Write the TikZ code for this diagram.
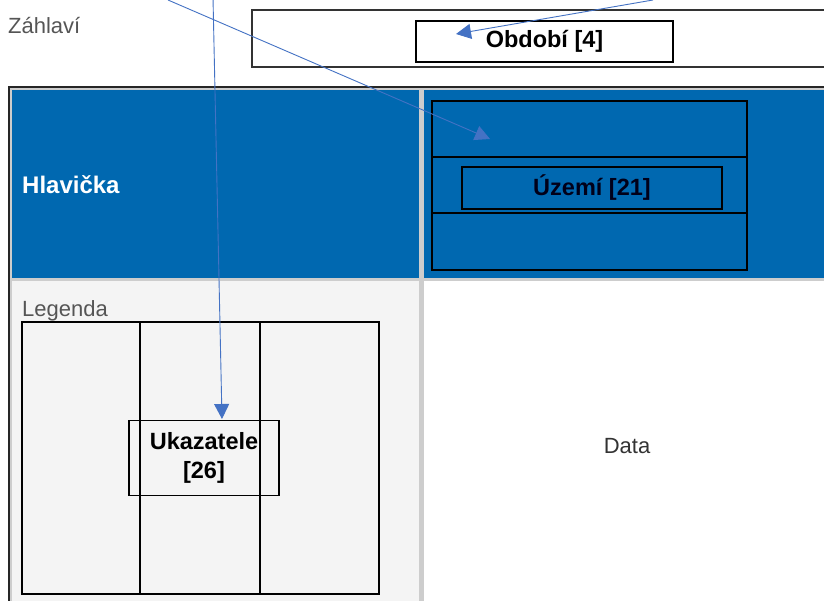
\documentclass[tikz,border=0pt]{standalone}
\usepackage{fontspec}
\setmainfont{Liberation Sans}
\usetikzlibrary{arrows.meta}
\definecolor{cellblue}{RGB}{0,104,176}
\definecolor{cellgray}{RGB}{244,244,244}
\definecolor{gridgray}{RGB}{205,205,205}
\definecolor{arrowblue}{RGB}{68,114,196}
\definecolor{labelgray}{RGB}{85,85,85}

\begin{document}
\begin{tikzpicture}[x=1pt,y=-1pt,
  label/.style={anchor=base west,font=\fontsize{22}{26}\selectfont,text=labelgray,inner sep=0pt},
  fieldbox/.style={draw=black,line width=1.5pt,inner sep=0pt,align=center,
    font=\fontsize{23.5}{29}\selectfont\bfseries},
  frame/.style={draw=black,line width=1.5pt},
  pointer/.style={draw=arrowblue,line width=.9pt,-{Triangle[length=15pt,width=15pt]}}]
  \useasboundingbox (0,0) rectangle (824,601);
  \fill[white] (0,0) rectangle (824,601);

  % zahlavi
  \node[label] (zahlavi) at (8,34) {Záhlaví};
  \draw[draw=black!80,line width=1.8pt] (252,10) rectangle (830,67);
  \node[fieldbox,minimum width=257pt,minimum height=41pt] (obdobi) at (544.5,41.5) {Období [4]};

  % table
  \fill[gridgray] (9,87) rectangle (830,610);
  \fill[cellblue] (12,90) rectangle (419,278);
  \fill[cellblue] (424,90) rectangle (830,278);
  \fill[cellgray] (12,281) rectangle (419,610);
  \fill[white] (424,281) rectangle (830,610);
  \draw[draw=black!85,line width=1.3pt] (9,610) -- (9,87) -- (830,87);

  \node[anchor=base west,inner sep=0pt,text=white,font=\fontsize{24}{28}\selectfont\bfseries]
    (hlavicka) at (22,194) {Hlavička};
  \draw[frame] (432,101) rectangle (747,270);
  \draw[frame] (432,157) -- (747,157);
  \draw[frame] (432,213) -- (747,213);
  \node[fieldbox,minimum width=260pt,minimum height=42pt,text=black!90!blue] (uzemi) at (592,188) {Území [21]};

  \node[label] (legenda) at (22,317) {Legenda};
  \draw[frame] (22,322) rectangle (379,594);
  \draw[frame] (140,322) -- (140,594);
  \draw[frame] (260,322) -- (260,594);
  \node[fieldbox,minimum width=150pt,minimum height=75pt] (ukazatele) at (204,458)
    {Ukazatele\\{[26]}};

  \node[anchor=base,inner sep=0pt,text=black!80,font=\fontsize{22}{26}\selectfont]
    (data) at (627,453) {Data};

  % pointers
  \coordinate (src1) at (213,-2);
  \coordinate (tip1) at (222,419);
  \coordinate (src2) at (168,0);
  \coordinate (tip2) at (490,139);
  \coordinate (src3) at (653,0);
  \coordinate (tip3) at (456,34);
  \draw[pointer] (src1) -- (tip1);
  \draw[pointer] (src2) -- (tip2);
  \draw[pointer] (src3) -- (tip3);
\end{tikzpicture}
\end{document}
